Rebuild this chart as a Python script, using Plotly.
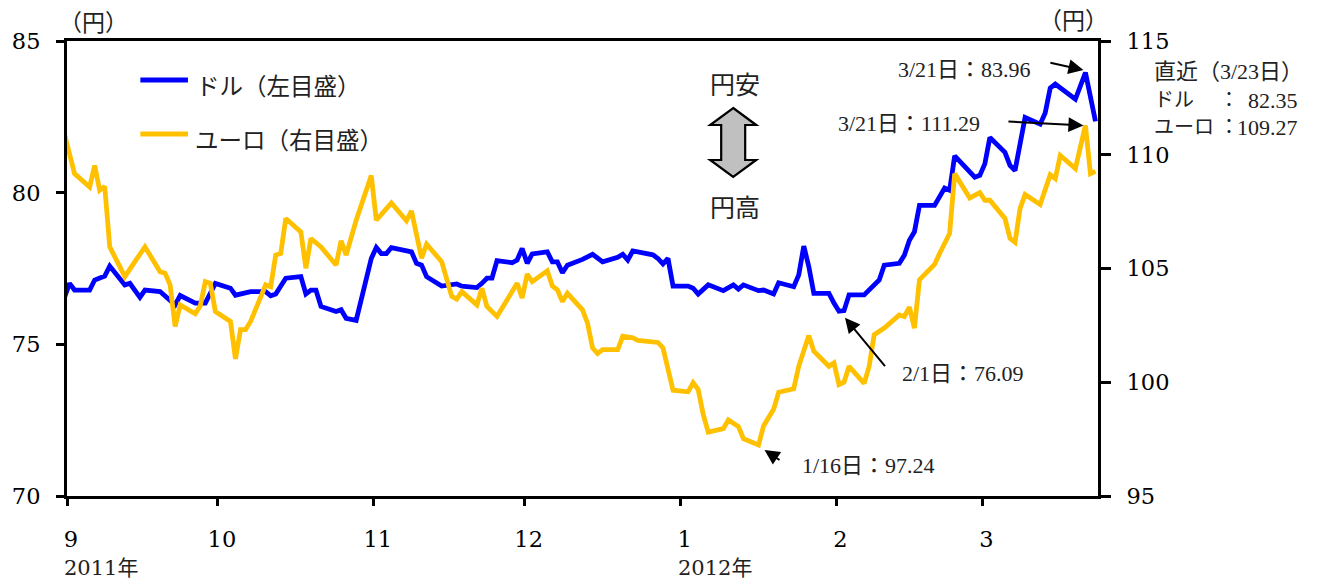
import pandas as pd
import plotly.graph_objects as go

# USD/JPY daily rates (left axis, yen)
usd_dates = [
    "2011-08-31", "2011-09-01", "2011-09-02", "2011-09-05", "2011-09-06", "2011-09-08", "2011-09-09",
    "2011-09-12", "2011-09-13", "2011-09-15", "2011-09-16", "2011-09-19", "2011-09-22", "2011-09-23",
    "2011-09-26", "2011-09-28", "2011-09-30", "2011-10-03", "2011-10-04", "2011-10-07", "2011-10-10",
    "2011-10-11", "2011-10-12", "2011-10-14", "2011-10-17", "2011-10-18", "2011-10-19", "2011-10-20",
    "2011-10-21", "2011-10-24", "2011-10-25", "2011-10-26", "2011-10-28", "2011-10-31", "2011-11-01",
    "2011-11-02", "2011-11-03", "2011-11-04", "2011-11-08", "2011-11-09", "2011-11-10", "2011-11-11",
    "2011-11-14", "2011-11-16", "2011-11-17", "2011-11-18", "2011-11-21", "2011-11-22", "2011-11-23",
    "2011-11-24", "2011-11-25", "2011-11-28", "2011-11-29", "2011-11-30", "2011-12-01", "2011-12-02",
    "2011-12-05", "2011-12-06", "2011-12-07", "2011-12-08", "2011-12-09", "2011-12-12", "2011-12-14",
    "2011-12-16", "2011-12-19", "2011-12-20", "2011-12-21", "2011-12-22", "2011-12-26", "2011-12-27",
    "2011-12-28", "2011-12-29", "2011-12-30", "2012-01-02", "2012-01-03", "2012-01-04", "2012-01-06",
    "2012-01-09", "2012-01-11", "2012-01-12", "2012-01-13", "2012-01-16", "2012-01-17", "2012-01-19",
    "2012-01-20", "2012-01-23", "2012-01-24", "2012-01-25", "2012-01-26", "2012-01-27", "2012-01-30",
    "2012-01-31", "2012-02-01", "2012-02-02", "2012-02-03", "2012-02-06", "2012-02-08", "2012-02-09",
    "2012-02-10", "2012-02-13", "2012-02-14", "2012-02-15", "2012-02-16", "2012-02-17", "2012-02-20",
    "2012-02-21", "2012-02-22", "2012-02-23", "2012-02-24", "2012-02-28", "2012-02-29", "2012-03-01",
    "2012-03-02", "2012-03-05", "2012-03-06", "2012-03-07", "2012-03-09", "2012-03-12", "2012-03-13",
    "2012-03-14", "2012-03-15", "2012-03-19", "2012-03-21", "2012-03-23",
]
usd_rates = [
    76.55, 77.01, 76.79, 76.79, 77.12, 77.25, 77.58,
    76.96, 77.01, 76.55, 76.79, 76.74, 76.30, 76.61,
    76.36, 76.36, 77.01, 76.85, 76.62, 76.74, 76.74,
    76.60, 76.66, 77.18, 77.23, 76.66, 76.79, 76.79,
    76.25, 76.08, 76.14, 75.86, 75.79, 77.83, 78.19,
    77.99, 77.99, 78.19, 78.05, 77.67, 77.61, 77.23,
    76.92, 76.99, 76.99, 76.92, 76.87, 77.01, 77.18,
    77.18, 77.76, 77.69, 77.78, 78.16, 77.67, 77.98,
    78.05, 77.72, 77.72, 77.36, 77.61, 77.80, 77.97,
    77.72, 77.87, 77.97, 77.78, 78.08, 77.95, 77.83,
    77.65, 77.83, 76.92, 76.92, 76.85, 76.66, 76.96,
    76.77, 76.96, 76.82, 76.96, 76.77, 76.79, 76.66,
    77.03, 76.90, 77.29, 78.24, 77.56, 76.68, 76.68,
    76.36, 76.09, 76.11, 76.63, 76.63, 76.96, 77.12,
    77.61, 77.67, 77.94, 78.43, 78.71, 79.58, 79.58,
    79.86, 80.15, 80.08, 81.21, 80.51, 80.57, 80.95,
    81.82, 81.33, 80.90, 80.73, 82.48, 82.26, 82.63,
    83.45, 83.58, 83.08, 83.96, 82.35,
]

# EUR/JPY daily rates (right axis, yen)
eur_dates = [
    "2011-08-31", "2011-09-01", "2011-09-02", "2011-09-05", "2011-09-06", "2011-09-07", "2011-09-08",
    "2011-09-09", "2011-09-12", "2011-09-14", "2011-09-16", "2011-09-19", "2011-09-20", "2011-09-21",
    "2011-09-22", "2011-09-23", "2011-09-26", "2011-09-27", "2011-09-28", "2011-09-29", "2011-09-30",
    "2011-10-03", "2011-10-04", "2011-10-05", "2011-10-06", "2011-10-07", "2011-10-10", "2011-10-11",
    "2011-10-12", "2011-10-13", "2011-10-14", "2011-10-17", "2011-10-18", "2011-10-19", "2011-10-21",
    "2011-10-24", "2011-10-25", "2011-10-26", "2011-10-28", "2011-10-31", "2011-11-01", "2011-11-04",
    "2011-11-07", "2011-11-08", "2011-11-10", "2011-11-11", "2011-11-14", "2011-11-16", "2011-11-17",
    "2011-11-18", "2011-11-21", "2011-11-22", "2011-11-23", "2011-11-25", "2011-11-29", "2011-11-30",
    "2011-12-01", "2011-12-02", "2011-12-05", "2011-12-06", "2011-12-07", "2011-12-08", "2011-12-09",
    "2011-12-12", "2011-12-13", "2011-12-14", "2011-12-15", "2011-12-16", "2011-12-19", "2011-12-20",
    "2011-12-22", "2011-12-23", "2011-12-27", "2011-12-28", "2011-12-29", "2011-12-30", "2012-01-02",
    "2012-01-03", "2012-01-04", "2012-01-05", "2012-01-06", "2012-01-09", "2012-01-10", "2012-01-12",
    "2012-01-13", "2012-01-16", "2012-01-17", "2012-01-18", "2012-01-19", "2012-01-20", "2012-01-23",
    "2012-01-24", "2012-01-26", "2012-01-27", "2012-01-30", "2012-01-31", "2012-02-01", "2012-02-02",
    "2012-02-03", "2012-02-06", "2012-02-07", "2012-02-08", "2012-02-10", "2012-02-13", "2012-02-14",
    "2012-02-15", "2012-02-16", "2012-02-17", "2012-02-20", "2012-02-21", "2012-02-23", "2012-02-24",
    "2012-02-27", "2012-02-29", "2012-03-01", "2012-03-02", "2012-03-05", "2012-03-06", "2012-03-07",
    "2012-03-08", "2012-03-09", "2012-03-12", "2012-03-14", "2012-03-15", "2012-03-16", "2012-03-19",
    "2012-03-21", "2012-03-22", "2012-03-23",
]
eur_rates = [
    110.90, 110.00, 109.17, 108.58, 109.53, 108.44, 108.61,
    105.95, 104.64, 105.30, 105.95, 104.86, 104.79, 104.28,
    102.45, 103.40, 103.01, 103.36, 104.42, 104.35, 103.11,
    102.67, 101.03, 102.31, 102.31, 102.67, 104.28, 104.20,
    105.59, 105.66, 107.20, 106.61, 105.01, 106.32, 105.95,
    105.15, 106.22, 105.59, 107.12, 109.09, 107.12, 107.88,
    107.10, 107.53, 105.45, 106.07, 105.30, 103.77, 103.65,
    103.98, 103.40, 104.13, 103.33, 102.89, 104.35, 103.70,
    104.76, 104.42, 104.90, 104.23, 104.06, 103.55, 103.91,
    103.18, 102.60, 101.51, 101.26, 101.43, 101.43, 102.02,
    101.95, 101.84, 101.75, 101.51, 100.48, 99.65, 99.58,
    99.98, 99.68, 98.59, 97.81, 97.96, 98.34, 98.05,
    97.52, 97.24, 98.08, 98.44, 98.81, 99.56, 99.71,
    100.70, 102.05, 101.36, 100.70, 100.85, 99.90, 100.00,
    100.70, 99.95, 100.70, 102.09, 102.38, 102.96, 102.89,
    103.30, 102.38, 104.50, 105.18, 105.66, 106.54, 109.17,
    108.10, 108.33, 108.00, 108.00, 107.20, 106.32, 106.15,
    107.63, 108.25, 107.81, 109.12, 108.95, 109.97, 109.39,
    111.29, 109.17, 109.27,
]

month_ticks = ["2011-09-01", "2011-10-01", "2011-11-01", "2011-12-01",
               "2012-01-01", "2012-02-01", "2012-03-01"]
month_labels = ["9", "10", "11", "12", "1", "2", "3"]

# each daily observation sits in the middle of its day slot
half_day = pd.Timedelta(hours=12)
usd_x = pd.to_datetime(usd_dates) + half_day
eur_x = pd.to_datetime(eur_dates) + half_day

W, H = 1317, 586
ML, MR, MT, MB = 58, 219, 41, 90
PW, PH = W - ML - MR, H - MT - MB


def px(x):
    return (x - ML) / PW


def py(y):
    return (H - MB - y) / PH


USD_COLOR = "#0000FF"
EUR_COLOR = "#FFC000"
TEXT = "#222222"
TICK_FONT = dict(family="DejaVu Serif", size=22.5, color="black")
NUM_FONT = dict(family="Liberation Serif, Noto Sans CJK JP", size=22, color=TEXT)
BLOCK_FONT = dict(family="Liberation Serif, Noto Sans CJK JP", size=20, color=TEXT)
JP_FONT = dict(family="Noto Sans CJK JP", size=23.5, color=TEXT)

fig = go.Figure()
fig.add_trace(go.Scatter(
    x=usd_x, y=usd_rates, mode="lines", name="ドル（左目盛）",
    line=dict(color=USD_COLOR, width=4.8), yaxis="y", showlegend=False,
))
fig.add_trace(go.Scatter(
    x=eur_x, y=eur_rates, mode="lines", name="ユーロ（右目盛）",
    line=dict(color=EUR_COLOR, width=4.8), yaxis="y2", showlegend=False,
))

axis_style = dict(
    ticks="outside", tickwidth=3, tickcolor="black", showline=True,
    linewidth=3, linecolor="black", showgrid=False, zeroline=False,
    tickfont=TICK_FONT,
)

fig.update_layout(
    width=W, height=H, autosize=False,
    margin=dict(l=ML, r=MR, t=MT, b=MB, pad=0),
    paper_bgcolor="white", plot_bgcolor="white",
    xaxis=dict(
        type="date", range=["2011-09-01", "2012-03-24"],
        tickmode="array", tickvals=month_ticks, ticktext=month_labels,
        ticklen=7, mirror=True, ticklabelshift=4, ticklabelstandoff=14,
        **axis_style,
    ),
    yaxis=dict(range=[70, 85], tick0=70, dtick=5, ticklen=8,
               ticklabelstandoff=11, **axis_style),
    yaxis2=dict(range=[95, 115], tick0=95, dtick=5, ticklen=10,
                overlaying="y", side="right", ticklabelstandoff=11,
                **axis_style),
)

shapes = []
annotations = []

# legend samples
for yy, color in [(80, USD_COLOR), (134, EUR_COLOR)]:
    shapes.append(dict(type="line", xref="paper", yref="paper",
                       x0=px(132), x1=px(180), y0=py(yy), y1=py(yy),
                       line=dict(color=color, width=4.8)))
annotations.append(dict(xref="paper", yref="paper", x=px(186), y=py(85),
                        text="ドル（左目盛）", showarrow=False,
                        xanchor="left", yanchor="middle", font=JP_FONT))
annotations.append(dict(xref="paper", yref="paper", x=px(185), y=py(139),
                        text="ユーロ（右目盛）", showarrow=False,
                        xanchor="left", yanchor="middle", font=JP_FONT))

# unit labels
for xx, yy in [(85, 21), (1073, 19)]:
    annotations.append(dict(xref="paper", yref="paper", x=px(xx), y=py(yy),
                            text="（円）", showarrow=False,
                            xanchor="center", yanchor="middle",
                            font=dict(family="Noto Sans CJK JP", size=23, color=TEXT)))

# year labels under the month ticks
for date, label in [("2011-09-01", "2011年"), ("2012-01-01", "2012年")]:
    annotations.append(dict(xref="x", yref="paper", x=date, y=py(568),
                            text=label, showarrow=False, xshift=-5,
                            xanchor="left", yanchor="middle",
                            font=dict(family="DejaVu Serif, Noto Sans CJK JP",
                                      size=21, color=TEXT)))

# yen weaker / stronger marker
annotations.append(dict(xref="paper", yref="paper", x=px(732), y=py(83),
                        text="円安", showarrow=False, xanchor="center",
                        yanchor="middle", font=dict(family="Noto Sans CJK JP", size=25, color=TEXT)))
annotations.append(dict(xref="paper", yref="paper", x=px(732), y=py(206),
                        text="円高", showarrow=False, xanchor="center",
                        yanchor="middle", font=dict(family="Noto Sans CJK JP", size=25, color=TEXT)))
shapes.append(dict(
    type="path", xref="paper", yref="paper",
    xsizemode="pixel", ysizemode="pixel",
    xanchor=px(730), yanchor=py(142.5),
    path="M0,34.5 L23,17.5 L12,17.5 L12,-17.5 L23,-17.5 L0,-34.5 "
         "L-23,-17.5 L-12,-17.5 L-12,17.5 L-23,17.5 Z",
    fillcolor="#C0C0C0", line=dict(color="black", width=2.2),
))

# callouts for notable points
usd_lookup = dict(zip(usd_dates, usd_rates))
eur_lookup = dict(zip(eur_dates, eur_rates))
callouts = [
    # date, series, axis, ax, ay, xshift, yshift, text x, text y, anchor
    ("2012-03-21", usd_lookup, "y", -36, -8, -2, 2.5, 1032, 69, "right"),
    ("2012-03-21", eur_lookup, "y2", -78, -4, -2, 0, 981, 123, "right"),
    ("2012-02-01", usd_lookup, "y", 43, 52, 6, -6.5, 898, 373, "left"),
    ("2012-01-16", eur_lookup, "y2", 18, 12, 6, -5, 797, 465, "left"),
]
for date, lookup, yref, ax, ay, xs, ys, tx, ty, anchor in callouts:
    value = lookup[date]
    m, d = int(date[5:7]), int(date[8:10])
    annotations.append(dict(
        x=pd.Timestamp(date) + half_day, y=value, xref="x", yref=yref,
        text=" ", showarrow=True, arrowhead=2, arrowsize=1.5, arrowwidth=2,
        arrowcolor="black", ax=ax, ay=ay, xshift=xs, yshift=ys,
        standoff=0, startstandoff=0,
    ))
    annotations.append(dict(
        xref="paper", yref="paper", x=px(tx), y=py(ty),
        text=f"{m}/{d}日：{value:.2f}", showarrow=False,
        xanchor=anchor, yanchor="middle", font=NUM_FONT,
    ))

# latest values block
last_date = usd_dates[-1]
lm, ld = int(last_date[5:7]), int(last_date[8:10])
annotations.append(dict(xref="paper", yref="paper", x=px(1152), y=py(72),
                        text=f"直近（{lm}/{ld}日）", showarrow=False,
                        xanchor="left", yanchor="middle", font=NUM_FONT))
for yy, name, value in [(100, "ドル", usd_rates[-1]), (127, "ユーロ", eur_rates[-1])]:
    annotations.append(dict(xref="paper", yref="paper", x=px(1152), y=py(yy),
                            text=name, showarrow=False, xanchor="left",
                            yanchor="middle", font=BLOCK_FONT))
    annotations.append(dict(xref="paper", yref="paper", x=px(1230), y=py(yy),
                            text="：", showarrow=False, xanchor="center",
                            yanchor="middle", font=BLOCK_FONT))
    annotations.append(dict(xref="paper", yref="paper", x=px(1302), y=py(yy),
                            text=f"{value:.2f}", showarrow=False, xanchor="right",
                            yanchor="middle", font=NUM_FONT))

fig.update_layout(shapes=shapes, annotations=annotations)
fig.write_html("out.html")
